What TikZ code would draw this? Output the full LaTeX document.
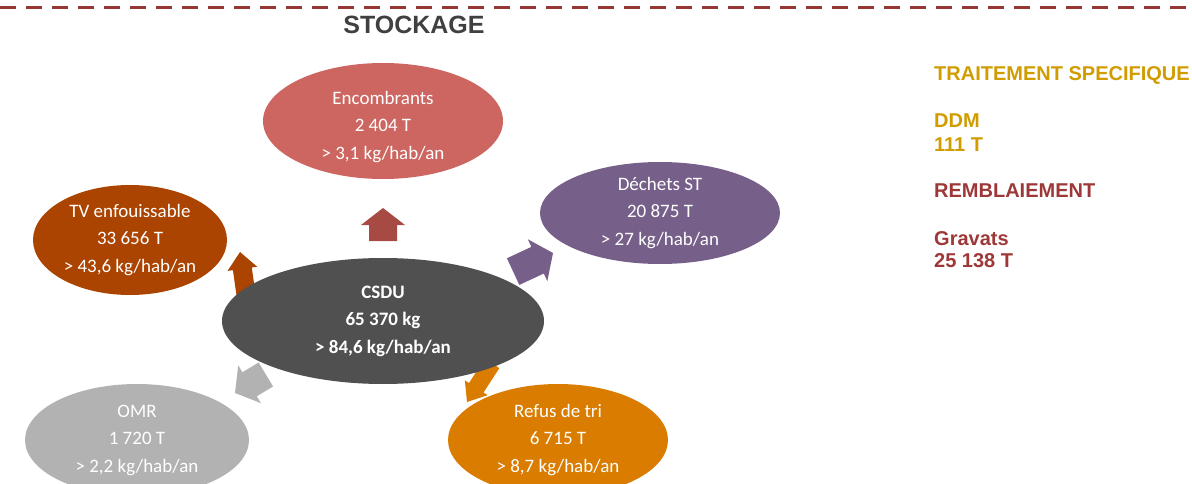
\documentclass[tikz,border=0pt]{standalone}
\usepackage{fontspec}
\usepackage{xcolor}
\setmainfont{Carlito}
\newfontfamily\arialfont{Liberation Sans}
\usetikzlibrary{shapes.geometric}

\definecolor{encombrants}{RGB}{205,102,96}
\definecolor{flecheE}{RGB}{167,74,68}
\definecolor{dechetsST}{RGB}{118,96,138}
\definecolor{enfouis}{RGB}{170,68,0}
\definecolor{csdu}{RGB}{80,80,80}
\definecolor{omr}{RGB}{178,178,178}
\definecolor{refus}{RGB}{217,124,0}
\definecolor{ortexte}{RGB}{208,156,0}
\definecolor{brique}{RGB}{158,56,56}
\definecolor{stockgris}{RGB}{64,64,64}
\definecolor{tirets}{RGB}{149,55,53}

% block arrow: tip, angle, length, width factor, colour
\newcommand{\fleche}[5]{%
  \fill[#5,shift={(#1)},rotate=#2] (0,0) -- (-17,{22*#4}) -- (-17,{14*#4})
    -- (-#3,{14*#4}) -- (-#3,{-14*#4}) -- (-17,{-14*#4}) -- (-17,{-22*#4}) -- cycle;}

\begin{document}
\begin{tikzpicture}[x=1pt,y=1pt,
    bulle/.style={ellipse,inner sep=0pt,text=white,align=center,
      font=\fontsize{19}{27.5}\selectfont},
    titre/.style={anchor=base west,inner sep=0pt,
      font=\arialfont\bfseries\fontsize{20}{22}\selectfont}]
  \useasboundingbox (0,0) rectangle (1192,483);
  \draw[tirets,line width=3pt,dash pattern=on 16pt off 10pt] (0,475) -- (1192,475);
  \node[anchor=base,inner sep=0pt,text=stockgris,
    font=\arialfont\bfseries\fontsize{25}{28}\selectfont] (stock) at (414,449) {STOCKAGE};

  % arrows (under the bubbles)
  \coordinate (pE) at (383,275);
  \coordinate (pD) at (553,230);
  \coordinate (pT) at (240,231);
  \coordinate (pO) at (235,90);
  \coordinate (pR) at (467,81);
  \fleche{pE}{90}{33}{1}{flecheE}
  \fleche{pD}{25}{44}{1.05}{dechetsST}
  \fleche{pT}{98}{46}{0.68}{enfouis}
  \fleche{pO}{211}{36}{1}{omr}
  \fleche{pR}{237}{46}{0.62}{refus}

  % bubbles
  \node[bulle,fill=encombrants,minimum width=240pt,minimum height=116pt] (enc) at (383,362) {};
  \node[bulle] (encT) at ([yshift=-6pt]enc.center) {Encombrants\\2 404 T\\> 3,1 kg/hab/an};
  \node[bulle,fill=dechetsST,minimum width=240pt,minimum height=102pt] (dst) at (660,270)
    {Déchets ST\\20 875 T\\> 27 kg/hab/an};
  \node[bulle,fill=enfouis,minimum width=194pt,minimum height=110pt] (tv) at (130,243)
    {TV enfouissable\\33 656 T\\> 43,6 kg/hab/an};
  \node[bulle,fill=csdu,minimum width=322pt,minimum height=126pt,
    font=\bfseries\fontsize{19}{27.5}\selectfont] (csdu) at (383,162)
    {CSDU\\65 370 kg\\> 84,6 kg/hab/an};
  \node[bulle,fill=omr,minimum width=224pt,minimum height=112pt] (omr) at (137,43)
    {OMR\\1 720 T\\> 2,2 kg/hab/an};
  \node[bulle,fill=refus,minimum width=220pt,minimum height=112pt] (ref) at (558,43)
    {Refus de tri\\6 715 T\\> 8,7 kg/hab/an};

  % right column
  \node[titre,text=ortexte] (ts) at (934,402) {TRAITEMENT SPECIFIQUE};
  \node[titre,text=ortexte] (ddm) at (934,355) {DDM};
  \node[titre,text=ortexte] (ddmt) at (934,331) {111 T};
  \node[titre,text=brique] (remb) at (934,286) {REMBLAIEMENT};
  \node[titre,text=brique] (grav) at (934,238) {Gravats};
  \node[titre,text=brique] (gravt) at (934,216) {25 138 T};
\end{tikzpicture}
\end{document}
